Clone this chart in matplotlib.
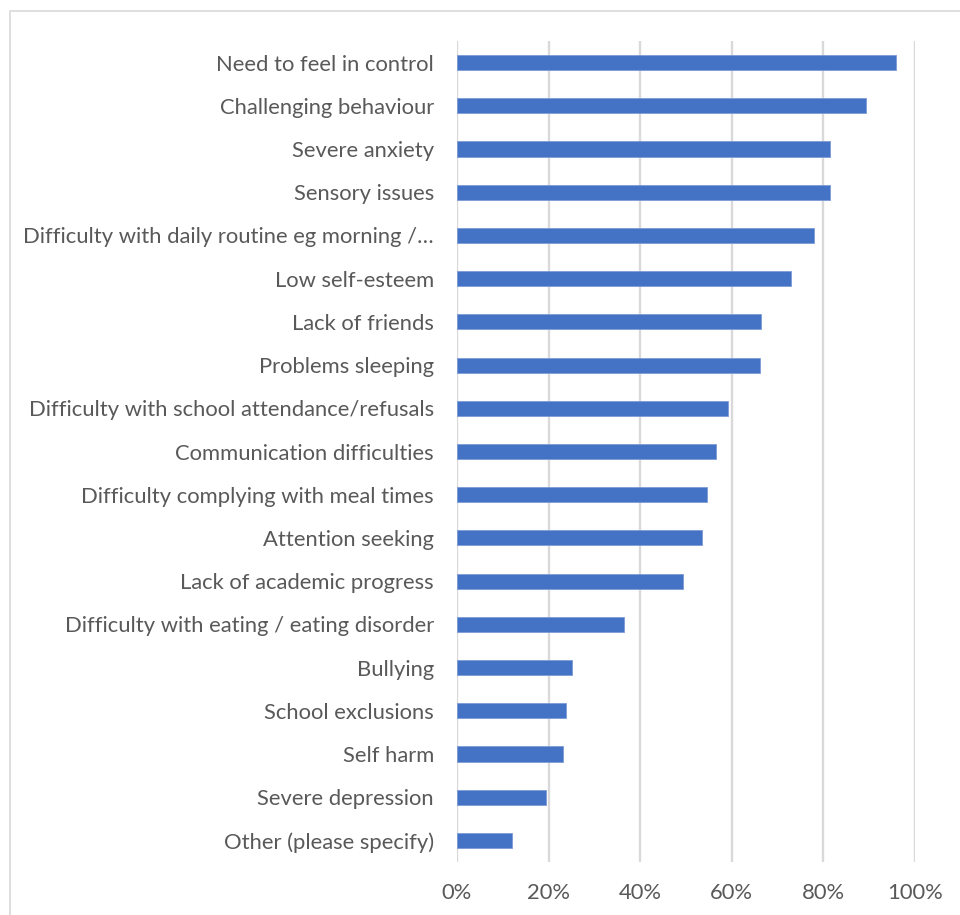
import matplotlib
matplotlib.use("Agg")
import matplotlib.pyplot as plt
from matplotlib.patches import Rectangle
from matplotlib.ticker import FuncFormatter

categories = [
    "Need to feel in control",
    "Challenging behaviour",
    "Severe anxiety",
    "Sensory issues",
    "Difficulty with daily routine eg morning /…",
    "Low self-esteem",
    "Lack of friends",
    "Problems sleeping",
    "Difficulty with school attendance/refusals",
    "Communication difficulties",
    "Difficulty complying with meal times",
    "Attention seeking",
    "Lack of academic progress",
    "Difficulty with eating / eating disorder",
    "Bullying",
    "School exclusions",
    "Self harm",
    "Severe depression",
    "Other (please specify)",
]
shares = [0.958, 0.894, 0.814, 0.814, 0.779, 0.729, 0.664, 0.661, 0.591,
          0.566, 0.546, 0.534, 0.493, 0.364, 0.252, 0.237, 0.231, 0.194, 0.119]
x_ticks = [0.0, 0.2, 0.4, 0.6, 0.8, 1.0]

plt.rcParams["font.family"] = ["Lato", "DejaVu Sans"]
text_color = "#595959"
grid_color = "#d9d9d9"
bar_color = "#4472C4"

fig = plt.figure(figsize=(9.6, 9.15), dpi=100)
# Light chart-area frame (top and left edges visible)
fig.patches.append(Rectangle((10 / 960, -0.1), 1.2, (915 - 11) / 915 + 0.1,
                             transform=fig.transFigure, fill=False,
                             edgecolor=grid_color, linewidth=1.2))

ax = fig.add_axes([457 / 960, 1 - 862 / 915, (915 - 457) / 960, (862 - 41) / 915])
y = list(range(len(categories)))
ax.barh(y, shares, height=0.35, color=bar_color, edgecolor="#7c9cd6",
        linewidth=0.6, zorder=3)
ax.set_ylim(len(categories) - 0.5, -0.5)
ax.set_xlim(0, 1)
ax.set_yticks(y)
ax.set_yticklabels(categories)
ax.set_xticks(x_ticks)
ax.xaxis.set_major_formatter(FuncFormatter(lambda v, _: f"{v * 100:.0f}%"))
ax.grid(axis="x", color=grid_color, linewidth=1.7, zorder=0)
for s in ax.spines.values():
    s.set_visible(False)
ax.tick_params(axis="both", length=0, labelsize=15.8, colors=text_color)
ax.tick_params(axis="y", pad=16.5)
ax.tick_params(axis="x", pad=15)

fig.savefig("out.png", dpi=100)
